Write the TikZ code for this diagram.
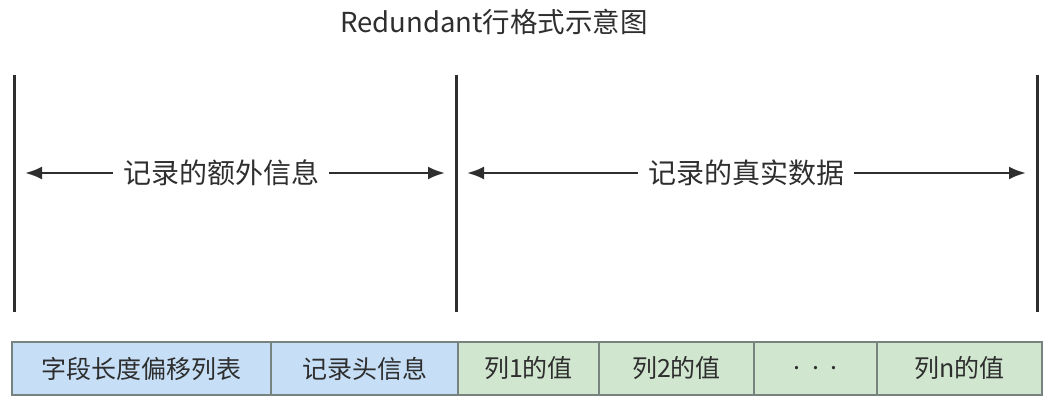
\documentclass[tikz,border=0pt]{standalone}
\usepackage{fontspec}
\setmainfont{Noto Sans CJK SC}
\usetikzlibrary{arrows.meta,positioning}
\usepackage{xcolor}
\definecolor{ink}{HTML}{2E2E2E}
\definecolor{meta}{HTML}{C6DFF6}
\definecolor{data}{HTML}{D0E6CF}
\definecolor{rim}{HTML}{76837F}
\tikzset{
  >={Latex[length=17pt,width=13pt]},
  every node/.style={text=ink},
  field/.style={draw=rim,line width=1.4pt,inner sep=0pt,outer sep=0pt,minimum height=53pt,font=\fontsize{25}{25}\selectfont},
  metafield/.style={field,fill=meta},
  datafield/.style={field,fill=data},
  bound/.style={line width=3pt,draw=ink},
  spanarr/.style={->,line width=2.6pt,draw=ink,shorten >=11pt},
  spantext/.style={font=\fontsize{28}{28}\selectfont,inner xsep=10pt,inner ysep=0pt},
  titletext/.style={font=\fontsize{27.5}{27.5}\selectfont},
}

\begin{document}
\begin{tikzpicture}[x=1pt,y=-1pt,node distance=0pt]
\useasboundingbox (0,0) rectangle (1050,406);

\node[titletext] (title) at (494,22) {Redundant行格式示意图};

% boundary lines
\coordinate (lt) at (14,75);   \coordinate (lb) at (14,312);
\coordinate (mt) at (456,75);  \coordinate (mb) at (456,312);
\coordinate (rt) at (1037,75); \coordinate (rb) at (1037,312);
\draw[bound] (lt) -- (lb);
\draw[bound] (mt) -- (mb);
\draw[bound] (rt) -- (rb);

\node[spantext] (extra) at (221,173) {记录的额外信息};
\node[spantext] (real) at (746,173) {记录的真实数据};

\draw[spanarr] (extra.west) -- (extra.west -| lt);
\draw[spanarr] (extra.east) -- (extra.east -| mt);
\draw[spanarr] (real.west) -- (real.west -| mt);
\draw[spanarr] (real.east) -- (real.east -| rt);

% record row
\node[metafield,minimum width=259pt,anchor=west] (offs) at (12,368.5) {字段长度偏移列表};
\node[metafield,minimum width=187pt,right=of offs] (head) {记录头信息};
\node[datafield,minimum width=141pt,right=of head] (col1) {列1的值};
\node[datafield,minimum width=155pt,right=of col1] (col2) {列2的值};
\node[datafield,minimum width=123pt,right=of col2] (dots) {.\ \ .\ \ .};
\node[datafield,minimum width=165pt,right=of dots] (coln) {列n的值};

\end{tikzpicture}
\end{document}
